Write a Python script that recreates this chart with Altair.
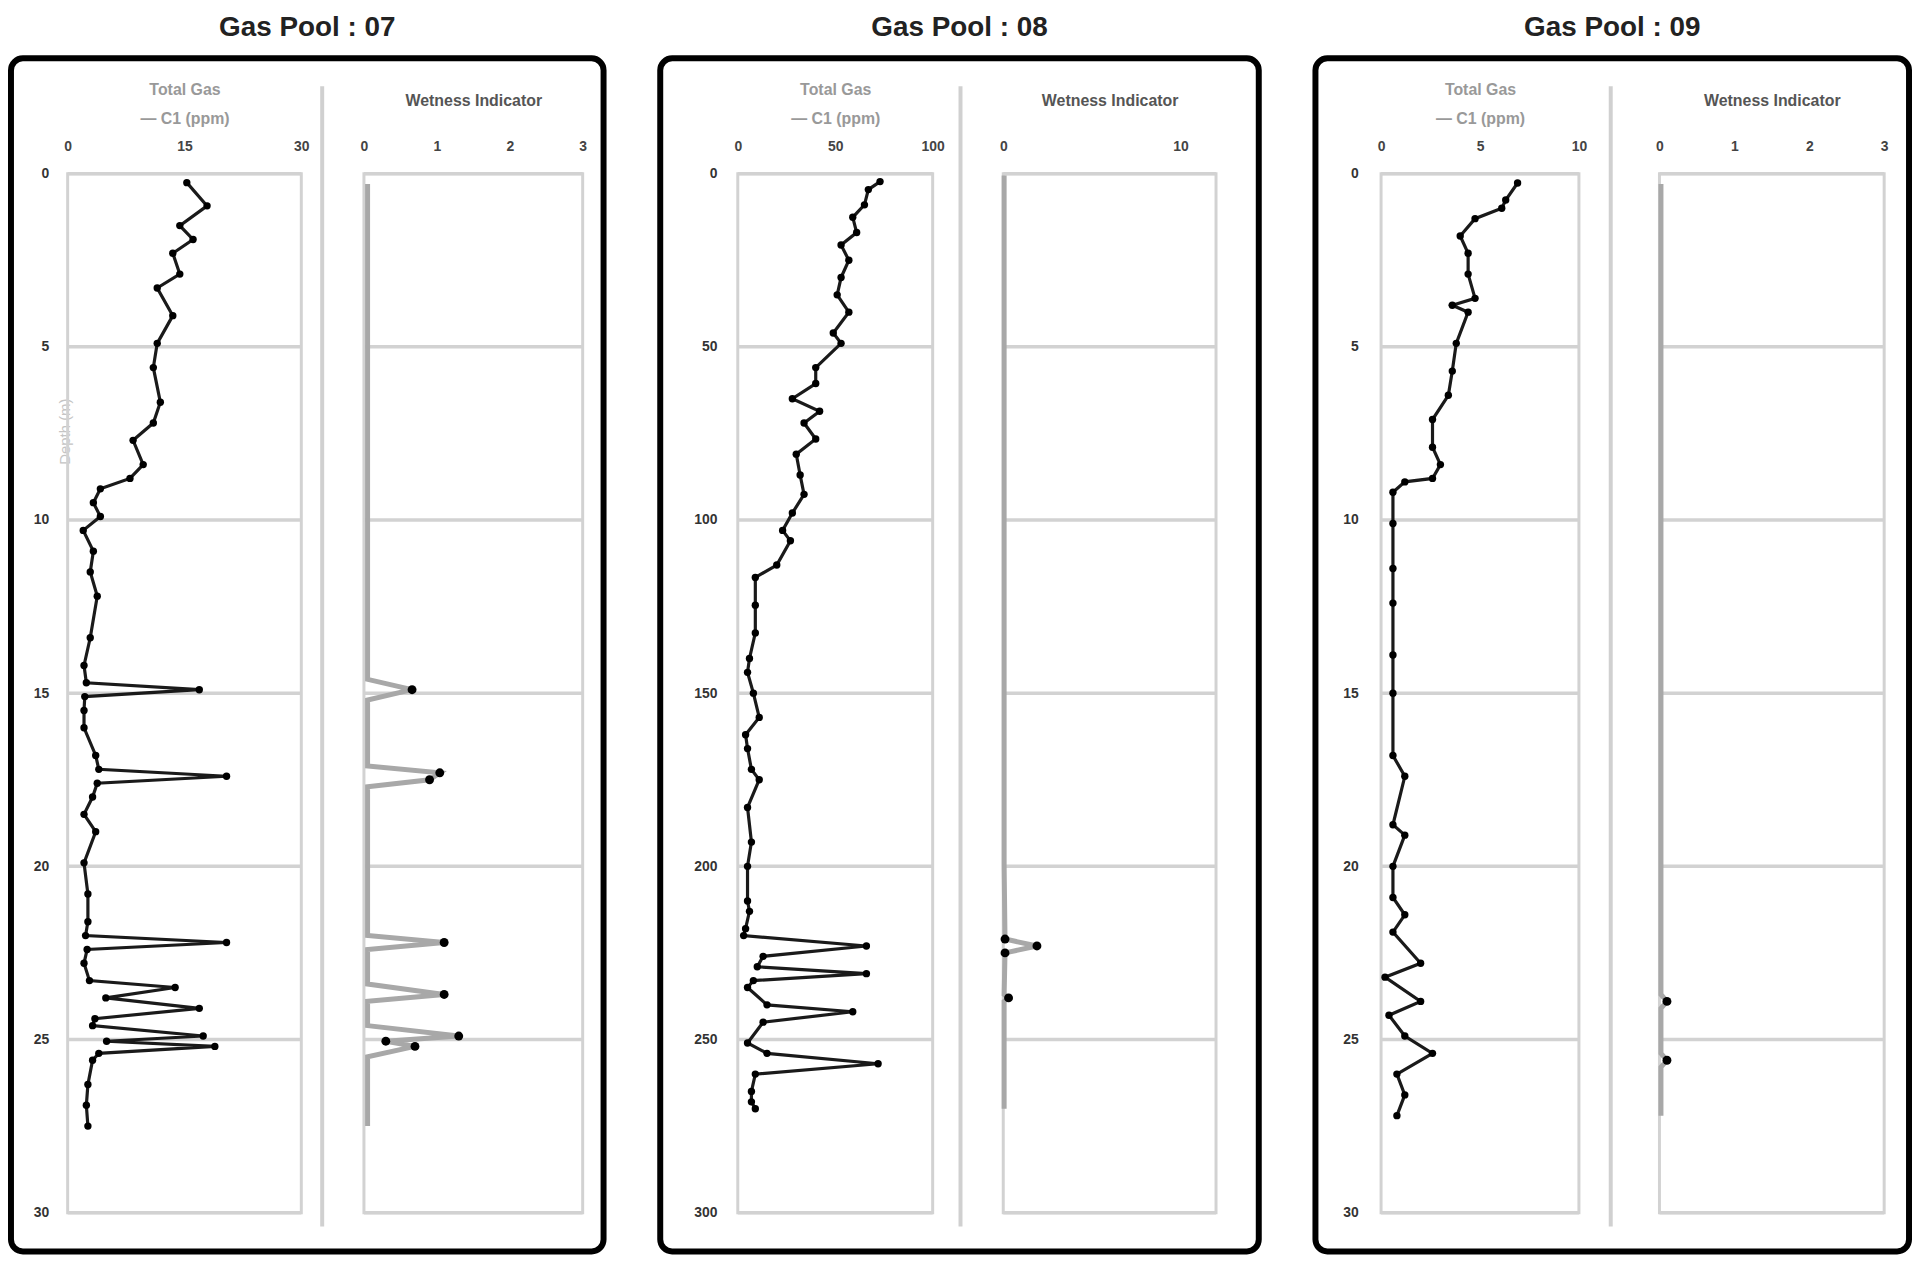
import altair as alt
import pandas as pd

# ---------------- data ----------------
TITLES = ["Gas Pool : 07", "Gas Pool : 08", "Gas Pool : 09"]
GAS_TITLE = ["Total Gas", "— C1 (ppm)"]
WET_TITLE = "Wetness Indicator"
DEPTH_TITLE = "Depth (m)"

DEPTH_TICKS = [[0, 5, 10, 15, 20, 25, 30],
               [0, 50, 100, 150, 200, 250, 300],
               [0, 5, 10, 15, 20, 25, 30]]
GAS_TICKS = [[0, 15, 30], [0, 50, 100], [0, 5, 10]]
WET_TICKS = [[0, 1, 2, 3], [0, 10], [0, 1, 2, 3]]
WET_MAX = [3, 12, 3]

gas1_depth = [0.26, 0.93, 1.5, 1.9, 2.3, 2.9, 3.3, 4.1, 4.9, 5.6, 6.6, 7.2, 7.7, 8.4, 8.8,
              9.1, 9.5, 9.9, 10.3, 10.9, 11.5, 12.2, 13.4, 14.2, 14.7, 14.9, 15.1, 15.5,
              16.0, 16.8, 17.2, 17.4, 17.6, 18.0, 18.5, 19.0, 19.9, 20.8, 21.6, 22.0,
              22.2, 22.4, 22.8, 23.3, 23.5, 23.8, 24.1, 24.4, 24.6, 24.9, 25.05, 25.2,
              25.4, 25.6, 26.3, 26.9, 27.5]
gas1_val = [15.3, 17.9, 14.4, 16.1, 13.5, 14.4, 11.5, 13.5, 11.5, 11.0, 11.9, 11.0, 8.4, 9.7,
            8.0, 4.2, 3.3, 4.2, 2.0, 3.3, 2.9, 3.8, 2.9, 2.1, 2.4, 16.9, 2.2, 2.1,
            2.1, 3.6, 4.0, 20.4, 3.8, 3.2, 2.1, 3.6, 2.1, 2.6, 2.6, 2.3,
            20.4, 2.5, 2.1, 2.8, 13.8, 4.9, 16.9, 3.5, 3.2, 17.4, 5.0, 18.9,
            4.0, 3.2, 2.6, 2.4, 2.6]
wet1_depth = [0.3, 3, 6, 9, 12, 14.6, 14.9, 15.2, 17.1, 17.3, 17.5, 17.7, 22.0, 22.2, 22.4,
              23.4, 23.7, 23.9, 24.6, 24.9, 25.05, 25.2, 25.5, 27.5]
wet1_val = [0.05, 0.05, 0.05, 0.05, 0.05, 0.05, 0.66, 0.05, 0.05, 1.04, 0.9, 0.05, 0.05, 1.1, 0.05,
            0.05, 1.1, 0.05, 0.05, 1.3, 0.3, 0.7, 0.05, 0.05]

gas2_depth = [2.3, 4.6, 9, 12.6, 17, 20.6, 25, 30, 35, 40, 46, 49, 56, 60.6, 65, 68.6, 72,
              76.6, 81, 87, 92.6, 98, 103, 106, 113, 116.6, 124.6, 132.6, 140, 144, 150,
              157, 162, 166, 172, 175, 183, 193, 200, 210, 213, 218, 220, 223, 226, 229,
              231, 233, 235, 240, 242, 245, 251, 254, 257, 260, 265, 268, 270]
gas2_val = [73, 67, 65, 59, 61, 53, 57, 53, 51, 57, 49, 53, 40, 40, 28, 42, 34,
            40, 30, 32, 34, 28, 23, 27, 20, 9, 9, 9, 6, 5, 8,
            11, 4, 5, 7, 11, 5, 7, 5, 5, 6, 4, 3, 66, 13, 10,
            66, 8, 5, 15, 59, 13, 5, 15, 72, 9, 7, 7, 9]
wet2_depth = [0.5, 50, 100, 150, 200, 221, 223, 225, 237, 238, 239, 270]
wet2_val = [0.05, 0.05, 0.05, 0.05, 0.05, 0.1, 1.9, 0.1, 0.05, 0.3, 0.05, 0.05]

gas3_depth = [0.27, 0.76, 1.0, 1.3, 1.8, 2.3, 2.9, 3.6, 3.8, 4.0, 4.9, 5.7, 6.4, 7.1, 7.9,
              8.4, 8.8, 8.9, 9.2, 10.1, 11.4, 12.4, 13.9, 15.0, 16.8, 17.4, 18.8, 19.1,
              20.0, 20.9, 21.4, 21.9, 22.8, 23.2, 23.9, 24.3, 24.9, 25.4, 26.0, 26.6, 27.2]
gas3_val = [6.9, 6.3, 6.1, 4.75, 4.0, 4.4, 4.4, 4.75, 3.6, 4.4, 3.8, 3.6, 3.4, 2.6, 2.6,
            3.0, 2.6, 1.2, 0.6, 0.6, 0.6, 0.6, 0.6, 0.6, 0.6, 1.2, 0.6, 1.2,
            0.6, 0.6, 1.2, 0.6, 2.0, 0.2, 2.0, 0.4, 1.2, 2.6, 0.8, 1.2, 0.8]
wet3_depth = [0.3, 5, 10, 15, 20, 23.7, 23.9, 24.1, 25.4, 25.6, 25.8, 27.2]
wet3_val = [0.02, 0.02, 0.02, 0.02, 0.02, 0.02, 0.1, 0.02, 0.02, 0.1, 0.02, 0.02]

GAS = [(gas1_depth, gas1_val), (gas2_depth, gas2_val), (gas3_depth, gas3_val)]
WET = [(wet1_depth, wet1_val), (wet2_depth, wet2_val), (wet3_depth, wet3_val)]

# ---------------- layout / style ----------------
PANEL_W = [596, 602, 597]
PANEL_H = 1200
Y_TOP, Y_BOT = 116, 1161
GEOM = [
    dict(t1=(57, 292), t2=(355, 575), sep=313, yoff=42),
    dict(t1=(78, 274), t2=(345, 559), sep=302, yoff=61),
    dict(t1=(66, 265), t2=(346, 572), sep=297, yoff=47),
]
FONT = "Liberation Sans"
GRID_C = "#d2d2d2"


def make_panel(i):
    g = GEOM[i]
    dticks = DEPTH_TICKS[i]
    dmax = dticks[-1]
    gmax = GAS_TICKS[i][-1]
    wmax = WET_MAX[i]

    ysc = alt.Scale(domain=[0, dmax], range=[Y_TOP, Y_BOT], nice=False, zero=False)
    yax_kw = dict(orient="left", offset=-g["yoff"], values=dticks, ticks=False, domain=False,
                  grid=False, labelPadding=4, labelFontSize=14, labelColor="#333",
                  labelFont=FONT, labelFontWeight="bold")
    if i == 0:
        yax_kw.update(title=DEPTH_TITLE, titleX=12, titleY=375, titleAngle=270,
                      titleColor="#c4c4c4", titleFontSize=15, titleFontWeight="normal",
                      titleFont=FONT, titleAlign="center", titleBaseline="middle")
    else:
        yax_kw.update(title=None)
    yax = alt.Axis(**yax_kw)

    def Y(f):
        return alt.Y(f, type="quantitative", scale=ysc, axis=yax)

    gsc = alt.Scale(domain=[0, gmax], range=list(g["t1"]), nice=False, zero=False)
    gax = alt.Axis(orient="top", offset=-98, values=GAS_TICKS[i], ticks=False, domain=False,
                   grid=False, labelPadding=2, labelFontSize=14, labelColor="#444",
                   labelFont=FONT, labelFontWeight="bold", labelFlush=False, labelOverlap=False,
                   title=GAS_TITLE, titlePadding=13, titleFontSize=16, titleColor="#999",
                   titleFont=FONT, titleFontWeight="bold", titleLineHeight=30)
    wsc = alt.Scale(domain=[0, wmax], range=list(g["t2"]), nice=False, zero=False)
    wax = alt.Axis(orient="top", offset=-98, values=WET_TICKS[i], ticks=False, domain=False,
                   grid=False, labelPadding=2, labelFontSize=14, labelColor="#444",
                   labelFont=FONT, labelFontWeight="bold", labelFlush=False, labelOverlap=False,
                   title=WET_TITLE, titlePadding=32, titleFontSize=16, titleColor="#555",
                   titleFont=FONT, titleFontWeight="bold")

    def GX(f):
        return alt.X(f, type="quantitative", scale=gsc, axis=gax)

    def WX(f):
        return alt.X(f, type="quantitative", scale=wsc, axis=wax)

    gd, gv = GAS[i]
    wd, wv = WET[i]
    gas_df = pd.DataFrame({"depth": gd, "gas": gv})
    wet_df = pd.DataFrame({"depth": wd, "wet": wv})
    frame_g = pd.DataFrame({"x0": [0], "x1": [gmax], "y0": [0], "y1": [dmax]})
    frame_w = pd.DataFrame({"x0": [0], "x1": [wmax], "y0": [0], "y1": [dmax]})
    grid_g = pd.DataFrame({"d": dticks, "x0": [0] * len(dticks), "x1": [gmax] * len(dticks)})
    grid_w = pd.DataFrame({"d": dticks, "x0": [0] * len(dticks), "x1": [wmax] * len(dticks)})

    t1 = alt.layer(
        alt.Chart(frame_g).mark_rect(fill="white", fillOpacity=0, stroke=GRID_C, strokeWidth=3)
        .encode(x=GX("x0"), x2="x1", y=Y("y0"), y2="y1"),
        alt.Chart(grid_g).mark_rule(color=GRID_C, strokeWidth=3.5)
        .encode(x=GX("x0"), x2="x1", y=Y("d")),
        alt.Chart(gas_df).mark_line(color="#1a1a1a", strokeWidth=3.2)
        .encode(x=GX("gas"), y=Y("depth"), order="depth:Q"),
        alt.Chart(gas_df).mark_circle(color="black", size=55, opacity=1)
        .encode(x=GX("gas"), y=Y("depth")),
    )
    t2 = alt.layer(
        alt.Chart(frame_w).mark_rect(fill="white", fillOpacity=0, stroke=GRID_C, strokeWidth=3)
        .encode(x=WX("x0"), x2="x1", y=Y("y0"), y2="y1"),
        alt.Chart(grid_w).mark_rule(color=GRID_C, strokeWidth=3.5)
        .encode(x=WX("x0"), x2="x1", y=Y("d")),
        alt.Chart(wet_df).mark_line(color="#a8a8a8", strokeWidth=5)
        .encode(x=WX("wet"), y=Y("depth"), order="depth:Q"),
        alt.Chart(wet_df).transform_filter("datum.wet >= 0.1")
        .mark_circle(color="black", size=80, opacity=1)
        .encode(x=WX("wet"), y=Y("depth")),
    )
    sep = alt.Chart().mark_rule(color="#d0d0d0", strokeWidth=4).encode(
        x=alt.value(g["sep"]), y=alt.value(28), y2=alt.value(1175))

    return alt.layer(t1, t2, sep).resolve_scale(x="independent").properties(
        width=PANEL_W[i], height=PANEL_H,
        title=alt.TitleParams(TITLES[i], fontSize=28, fontWeight="bold", font=FONT,
                              offset=16, anchor="middle", color="#222"))


chart = alt.hconcat(*[make_panel(i) for i in range(3)], spacing=51).properties(
    padding=0
).configure(
    font=FONT,
    view=alt.ViewConfig(stroke="black", strokeWidth=6, cornerRadius=12),
)

chart.save("out.html", embed_options={"renderer": "svg", "actions": False})
